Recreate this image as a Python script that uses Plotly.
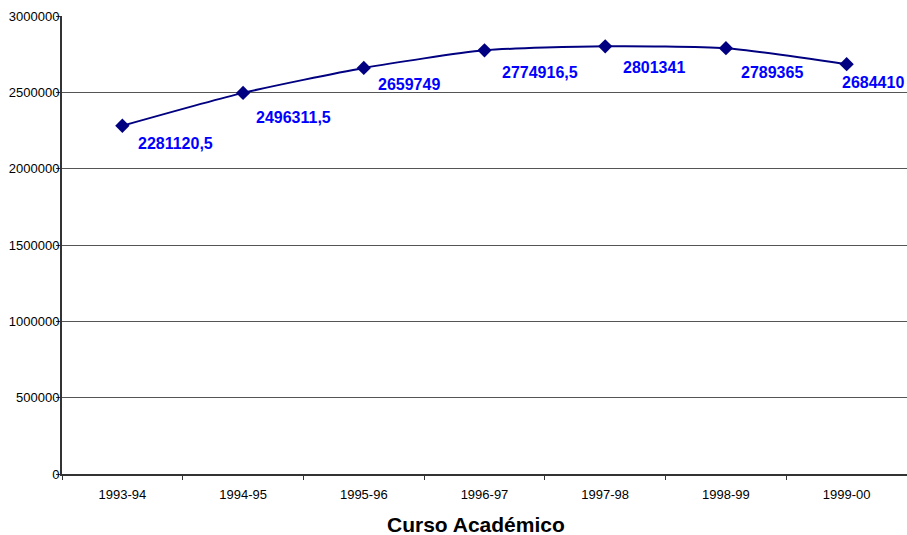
import plotly.graph_objects as go

cursos = ["1993-94", "1994-95", "1995-96", "1996-97", "1997-98", "1998-99", "1999-00"]
valores = [2281120.5, 2496311.5, 2659749, 2774916.5, 2801341, 2789365, 2684410]
etiquetas = ["2281120,5", "2496311,5", "2659749", "2774916,5", "2801341", "2789365", "2684410"]

# label offsets (pixels) relative to each point
label_dx = [14, 11, 12, 15, 16, 13, -7]
label_dy = [18, 25, 17, 22, 21, 24, 18]

fig = go.Figure()
fig.add_trace(go.Scatter(
    x=cursos, y=valores, mode="lines+markers",
    line=dict(color="#000080", width=2, shape="spline", smoothing=0.6),
    marker=dict(symbol="diamond", size=11, color="#000080"),
    hoverinfo="skip", showlegend=False,
))

for c, v, t, dx, dy in zip(cursos, valores, etiquetas, label_dx, label_dy):
    fig.add_annotation(
        x=c, y=v, text=t, showarrow=False, xanchor="left", yanchor="middle",
        xshift=dx, yshift=-dy,
        font=dict(family="Liberation Sans, Arial, sans-serif", size=16, color="#0000FF", weight="bold"),
    )

fig.add_annotation(
    xref="paper", yref="paper", x=0.49, y=0, yshift=-50,
    xanchor="center", yanchor="middle", showarrow=False,
    text="<b>Curso Académico</b>",
    font=dict(family="Liberation Sans, Arial, sans-serif", size=21, color="black"),
)

fig.update_layout(
    width=907, height=535,
    margin=dict(l=62, r=0, t=16, b=61, autoexpand=False),
    paper_bgcolor="white", plot_bgcolor="white",
    font=dict(family="Liberation Sans, Arial, sans-serif", size=13, color="black"),
    xaxis=dict(
        type="category", range=[-0.5, 6.5],
        tickson="boundaries", ticks="outside", ticklen=4, tickcolor="#333",
        showline=True, linecolor="#333", linewidth=2,
        showgrid=False, ticklabelstandoff=7,
        tickfont=dict(size=13),
    ),
    yaxis=dict(
        range=[0, 3000000], dtick=500000, tickformat="d",
        ticks="outside", ticklen=4, tickcolor="#333",
        showline=True, linecolor="#333", linewidth=2,
        showgrid=True, gridcolor="#555", gridwidth=1,
        zeroline=False, tickfont=dict(size=13), ticklabelstandoff=-6,
    ),
)

fig.write_html(
    "out.html",
    config={"displayModeBar": False},
    post_script="document.body.style.margin='0';document.body.style.overflow='hidden';",
)
